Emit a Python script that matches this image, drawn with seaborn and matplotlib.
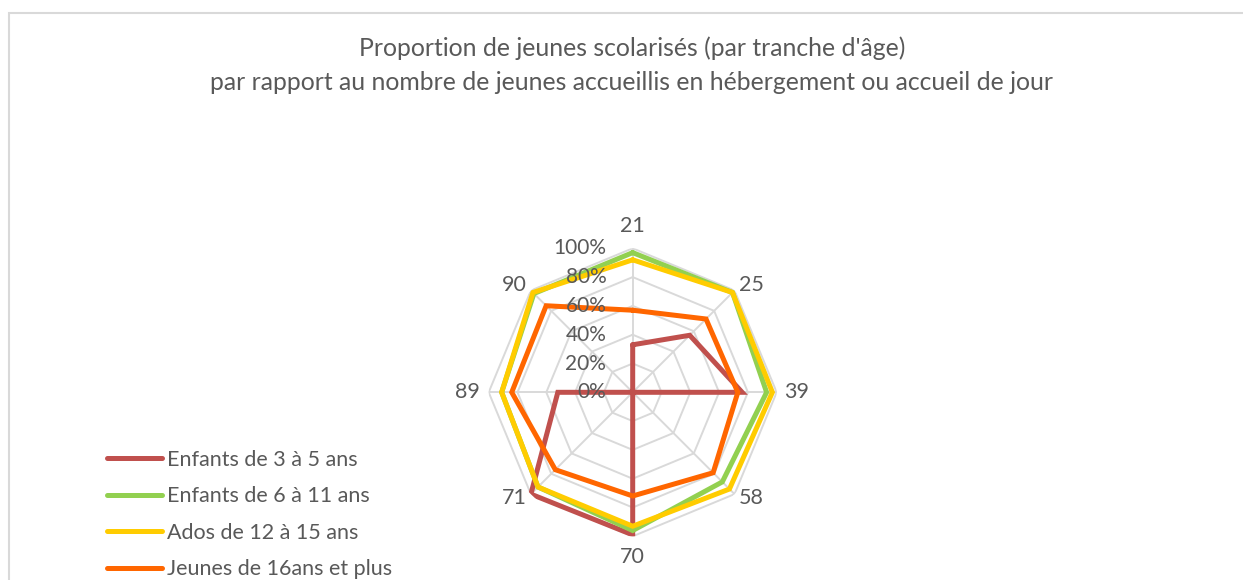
import numpy as np
import pandas as pd
import seaborn as sns
import matplotlib.pyplot as plt
from matplotlib.patches import Rectangle

# data
categories = ["21", "25", "39", "58", "70", "71", "89", "90"]
series_names = ["Enfants de 3 à 5 ans", "Enfants de 6 à 11 ans",
                "Ados de 12 à 15 ans", "Jeunes de 16ans et plus"]
enfants_3_5 = [0.33, 0.56, 0.76, 0.0, 0.99, 1.0, 0.52, 0.0]
enfants_6_11 = [0.97, 0.98, 0.93, 0.88, 0.96, 0.93, 0.91, 0.97]
ados_12_15 = [0.92, 0.98, 0.97, 0.95, 0.93, 0.93, 0.91, 0.98]
jeunes_16 = [0.57, 0.72, 0.73, 0.79, 0.72, 0.76, 0.84, 0.85]
ring_ticks = [0, 0.2, 0.4, 0.6, 0.8, 1.0]
ring_labels = ["0%", "20%", "40%", "60%", "80%", "100%"]

colors = ["#C0504D", "#92D050", "#FFCC00", "#FF6600"]
grey_txt = "#595959"
grid_col = "#D9D9D9"

sns.set_theme(style="white")
plt.rcParams["font.family"] = ["Lato", "DejaVu Sans"]

n = len(categories)
angles = np.arange(n) * 2 * np.pi / n
closed = np.append(angles, angles[0])

rows = []
for name, vals in zip(series_names,
                      [enfants_3_5, enfants_6_11, ados_12_15, jeunes_16]):
    vv = list(vals) + [vals[0]]
    for k, (t, v) in enumerate(zip(closed, vv)):
        rows.append({"theta": t, "value": v, "serie": name, "order": k})
df = pd.DataFrame(rows)

fig = plt.figure(figsize=(12.43, 5.8), dpi=100)
W, H = 1243, 580

# chart area border (cut by the image edge on right and bottom)
fig.patches.append(Rectangle((9 / W, -0.2), 1.2, (H - 13) / H + 0.2,
                             transform=fig.transFigure, fill=False,
                             edgecolor=grid_col, linewidth=1.5))

cx, cy, R = 632.7, 392.3, 144
ax = fig.add_axes([(cx - R) / W, (H - cy - R) / H, 2 * R / W, 2 * R / H],
                  projection="polar")
ax.set_theta_zero_location("N")
ax.set_theta_direction(-1)
ax.set_ylim(0, 1)
ax.grid(False)
ax.spines["polar"].set_visible(False)
ax.set_xticks([])
ax.set_yticks([])
ax.patch.set_alpha(0)

# octagonal grid
for r in ring_ticks[1:]:
    ax.plot(closed, [r] * len(closed), color=grid_col, lw=1.4, zorder=1)
for t in angles:
    ax.plot([t, t], [0, 1], color=grid_col, lw=1.4, zorder=1)

sns.lineplot(data=df, x="theta", y="value", hue="serie", units="serie",
             estimator=None, sort=False, palette=colors, linewidth=3.6,
             legend=False, ax=ax, zorder=3)
for ln in ax.lines[-4:]:
    ln.set_solid_joinstyle("miter")
ax.set_xlabel("")
ax.set_ylabel("")
ax.set_ylim(0, 1)

# radial value labels along the top spoke
for r, lab in zip(ring_ticks, ring_labels):
    ax.annotate(lab, xy=(0, r), xytext=(-19, 0), textcoords="offset points",
                ha="right", va="center", fontsize=15, color=grey_txt,
                zorder=5)

# category labels
offsets = [(0, 16), (12, 4), (14.5, 0), (12, -3), (0, -15), (-12, -3),
           (-15.5, 0), (-12, 4)]
for t, lab, off in zip(angles, categories, offsets):
    ax.annotate(lab, xy=(t, 1.0), xytext=off, textcoords="offset points",
                ha="center", va="center", fontsize=15.5, color=grey_txt,
                annotation_clip=False)

fig.text(632 / W, 1 - 48 / H,
         "Proportion de jeunes scolarisés (par tranche d'âge)",
         ha="center", va="center", fontsize=17.8, color=grey_txt)
fig.text(631 / W, 1 - 83 / H,
         "par rapport au nombre de jeunes accueillis en hébergement ou accueil de jour",
         ha="center", va="center", fontsize=17.8, color=grey_txt)

handles = [plt.Line2D([], [], color=c, lw=3.6, solid_capstyle="round")
           for c in colors]
leg = fig.legend(handles, series_names, loc="center left",
                 bbox_to_anchor=(107 / W, (H - 514.5) / H), frameon=False,
                 fontsize=15.5, handlelength=2.56, handletextpad=0.23,
                 labelspacing=0.76, borderpad=0, borderaxespad=0)
for txt in leg.get_texts():
    txt.set_color(grey_txt)

fig.savefig("out.png", dpi=100)
